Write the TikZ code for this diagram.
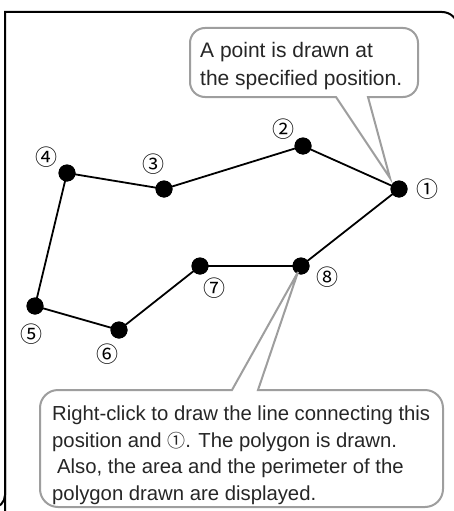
\documentclass[tikz,border=0pt]{standalone}
\usepackage{fontspec}
\setmainfont{Liberation Sans}
\newfontfamily\circfont{Noto Sans CJK JP}
\begin{document}
\begin{tikzpicture}[x=1pt,y=-1pt,
  pt/.style={circle,fill=black,inner sep=0pt,minimum size=17pt},
  edge/.style={line width=1.8pt},
  num/.style={font=\circfont\fontsize{22}{22}\selectfont,inner sep=0pt},
  callout/.style={draw=black!38,line width=2pt,fill=white},
  ctext/.style={font=\fontsize{21}{26.7}\selectfont,text=black!85,inner sep=0pt,anchor=base west},
  ctextb/.style={ctext,font=\fontsize{20.3}{26.7}\selectfont}
]
\useasboundingbox (0,0) rectangle (454,511);
\begin{scope}
\clip (0,0) rectangle (454,511);
\draw[line width=2pt] (5,530) -- (5,12) [rounded corners=16] -- (458,12) -- (458,530);
\draw[line width=2pt,rounded corners=13] (-20,508) -- (5,508) -- (5,400);
\end{scope}
% points
\node[pt] (p1) at (399,189) {};
\node[pt] (p2) at (303,146) {};
\node[pt] (p3) at (164,189) {};
\node[pt] (p4) at (67,173) {};
\node[pt] (p5) at (35,306) {};
\node[pt] (p6) at (119,330) {};
\node[pt] (p7) at (200,266) {};
\node[pt] (p8) at (301,266) {};
\draw[edge] (p1.center) -- (p2.center) -- (p3.center) -- (p4.center) -- (p5.center) -- (p6.center) -- (p7.center) -- (p8.center) -- (p1.center);
\foreach \i in {1,...,8} \node[pt] at (p\i) {};
% labels
\node[num] (l1) at (427,189) {①};
\node[num] (l2) at (283,129) {②};
\node[num] (l3) at (153,164) {③};
\node[num] (l4) at (46,157) {④};
\node[num] (l5) at (31,334) {⑤};
\node[num] (l6) at (107,354) {⑥};
\node[num] (l7) at (214,288) {⑦};
\node[num] (l8) at (327,277) {⑧};
% callout 1
\coordinate (t1) at (390,178);
\draw[callout] (336,97) -- (t1) -- (368,97) [rounded corners=15] -- (418,97) -- (418,28) -- (190,28) -- (190,97) [sharp corners] -- cycle;
\node[ctext] (c1a) at (200,58) {A point is drawn at};
\node[ctext] (c1b) at (200,85) {the specified position.};
% callout 2
\coordinate (t2) at (298,272);
\draw[callout] (232,390) -- (t2) -- (258,390) [rounded corners=18] -- (443,390) -- (443,507) -- (40,507) -- (40,390) [sharp corners] -- cycle;
\node[ctextb] (c2a) at (52,420) {Right-click to draw the line connecting this};
\node[ctextb] (c2b) at (52,447) {position and {\circfont\fontsize{18}{18}\selectfont ①}. The polygon is drawn.};
\node[ctextb] (c2c) at (57,473) {Also, the area and the perimeter of the};
\node[ctextb] (c2d) at (52,500) {polygon drawn are displayed.};
\end{tikzpicture}
\end{document}
